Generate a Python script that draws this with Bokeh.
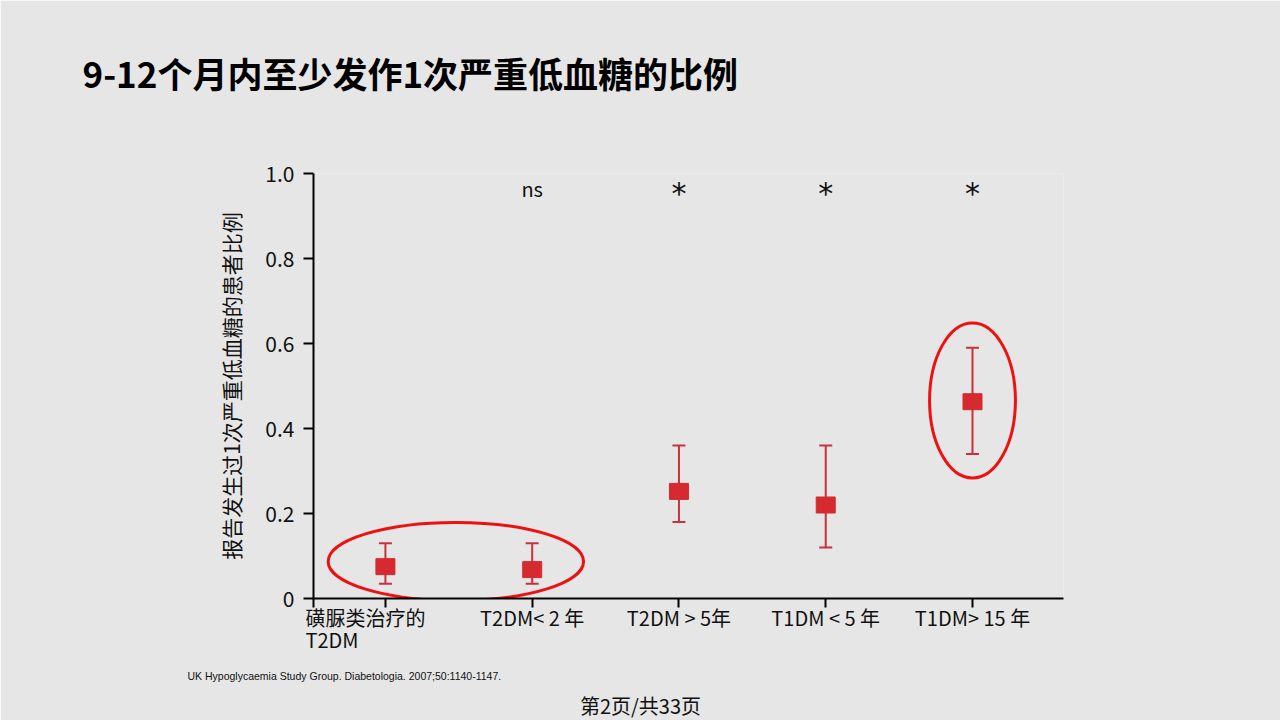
from bokeh.plotting import figure
from bokeh.models import ColumnDataSource, FixedTicker, Range1d
from bokeh.core.properties import value
from bokeh.embed import file_html
from bokeh.resources import INLINE

# ---- data ----
categories = ["磺脲类治疗的\nT2DM", "T2DM< 2 年", "T2DM > 5年", "T1DM < 5 年", "T1DM> 15 年"]
positions = [1, 2, 3, 4, 5]
proportion = [0.075, 0.068, 0.252, 0.220, 0.463]
ci_low = [0.035, 0.035, 0.180, 0.120, 0.340]
ci_high = [0.130, 0.130, 0.360, 0.360, 0.590]
significance = ["", "ns", "*", "*", "*"]
y_ticks = [0, 0.2, 0.4, 0.6, 0.8, 1.0]
y_tick_labels = ["0", "0.2", "0.4", "0.6", "0.8", "1.0"]

title_text = "9-12个月内至少发作1次严重低血糖的比例"
y_label = "报告发生过1次严重低血糖的患者比例"
source_text = "UK Hypoglycaemia Study Group. Diabetologia. 2007;50:1140-1147."
page_text = "第2页/共33页"

# highlighted groups (center x, center y, width, height in data units)
hl_x = [1.48, 5.0]
hl_y = [0.087, 0.466]
hl_w = [1.74, 0.585]
hl_h = [0.184, 0.365]

BG = "#e6e6e6"
RED = "#d42a30"
BAR = "#c9323a"
FONT = "Noto Sans CJK SC"

W, H = 1280, 720
FL, FR, FT, FB = 313, 1063, 173, 598   # frame edges in page pixels
X0, X1, Y0, Y1 = 0.51, 5.62, 0.0, 1.0


def px_to_x(px):
    return X0 + (px - FL) / (FR - FL) * (X1 - X0)


def px_to_y(py):
    return Y0 + (FB - py) / (FB - FT) * (Y1 - Y0)


p = figure(width=W, height=H,
           x_range=Range1d(X0, X1), y_range=Range1d(Y0, Y1),
           output_backend="svg", toolbar_location=None,
           min_border_left=FL, min_border_right=W - FR,
           min_border_top=FT, min_border_bottom=H - FB,
           background_fill_color=BG, border_fill_color=BG,
           outline_line_color=None)
p.grid.visible = False

src = ColumnDataSource(dict(x=positions, y=proportion, lo=ci_low, hi=ci_high))

# highlight ellipses
p.ellipse(x=hl_x, y=hl_y, width=hl_w, height=hl_h,
          fill_alpha=0, line_color="#ee1111", line_width=3)

# error bars
p.segment(x0="x", y0="lo", x1="x", y1="hi", source=src, line_color=BAR, line_width=2)
p.dash(x="x", y="lo", source=src, size=13, line_color=BAR, line_width=2)
p.dash(x="x", y="hi", source=src, size=13, line_color=BAR, line_width=2)

# markers
p.rect(x="x", y="y", width=19, height=16, width_units="screen", height_units="screen",
       source=src, fill_color=RED, line_color=RED)

# significance labels
ns_x = [x for x, s in zip(positions, significance) if s == "ns"]
st_x = [x for x, s in zip(positions, significance) if s == "*"]
p.text(x=ns_x, y=[0.965] * len(ns_x), text=["ns"] * len(ns_x),
       text_font=value(FONT), text_font_size="20px", text_align="center",
       text_baseline="middle", text_color="#111111")
p.text(x=st_x, y=[0.953] * len(st_x), text=["*"] * len(st_x),
       text_font=value("DejaVu Sans"), text_font_size="30px", text_align="center",
       text_baseline="alphabetic", text_color="#111111")

# axes (tick marks from the axes; category labels drawn below them)
p.xaxis.ticker = FixedTicker(ticks=[X0] + positions)
p.xaxis.major_label_overrides = {float(t): "" for t in [X0] + positions}
p.yaxis.ticker = FixedTicker(ticks=y_ticks)
p.yaxis.major_label_overrides = {float(t): l for t, l in zip(y_ticks, y_tick_labels)}

for ax in (p.xaxis[0], p.yaxis[0]):
    ax.axis_line_color = "black"
    ax.axis_line_width = 2
    ax.major_tick_line_color = "black"
    ax.major_tick_line_width = 2
    ax.major_tick_in = 0
    ax.minor_tick_line_color = None
    ax.major_label_text_font = FONT
    ax.major_label_text_color = "#111111"

p.xaxis.major_tick_out = 9
p.yaxis.major_tick_out = 10
p.yaxis.major_label_text_font_size = "21px"
p.yaxis.major_label_standoff = 9
p.yaxis.axis_label = y_label
p.yaxis.axis_label_text_font = FONT
p.yaxis.axis_label_text_font_style = "normal"
p.yaxis.axis_label_text_font_size = "21px"
p.yaxis.axis_label_text_color = "#111111"
p.yaxis.axis_label_standoff = 16

# category labels: first one left-aligned under the axis start, others centred on ticks
lab_align = ["left"] + ["center"] * (len(categories) - 1)
lab_offset = [305 - FL - (positions[0] - X0) / (X1 - X0) * (FR - FL)] + [0] * (len(categories) - 1)
lab_src = ColumnDataSource(dict(x=positions, y=[px_to_y(602)] * len(positions),
                                text=categories, align=lab_align, xoff=lab_offset))
p.text(x="x", y="y", text="text", source=lab_src, level="overlay",
       text_align="align", x_offset="xoff", text_baseline="top",
       text_font=value(FONT), text_font_size="20px", text_line_height=0.78,
       text_color="#111111")

# page texts (drawn unclipped on the overlay level)
p.text(x=[px_to_x(82)], y=[px_to_y(72)], text=[title_text], level="overlay",
       text_font=value(FONT), text_font_style="bold", text_font_size="35px",
       text_align="left", text_baseline="middle", text_color="#000000")
p.text(x=[px_to_x(187)], y=[px_to_y(675)], text=[source_text], level="overlay",
       text_font=value("Liberation Sans"), text_font_size="10.5px",
       text_align="left", text_baseline="middle", text_color="#111111")
p.text(x=[px_to_x(640)], y=[px_to_y(705)], text=[page_text], level="overlay",
       text_font=value(FONT), text_font_size="20px",
       text_align="center", text_baseline="middle", text_color="#111111")

html = file_html(p, INLINE)
html = html.replace("<body>", '<body style="margin:0;background:#e6e6e6;">', 1)
open("out.html", "w").write(html)
